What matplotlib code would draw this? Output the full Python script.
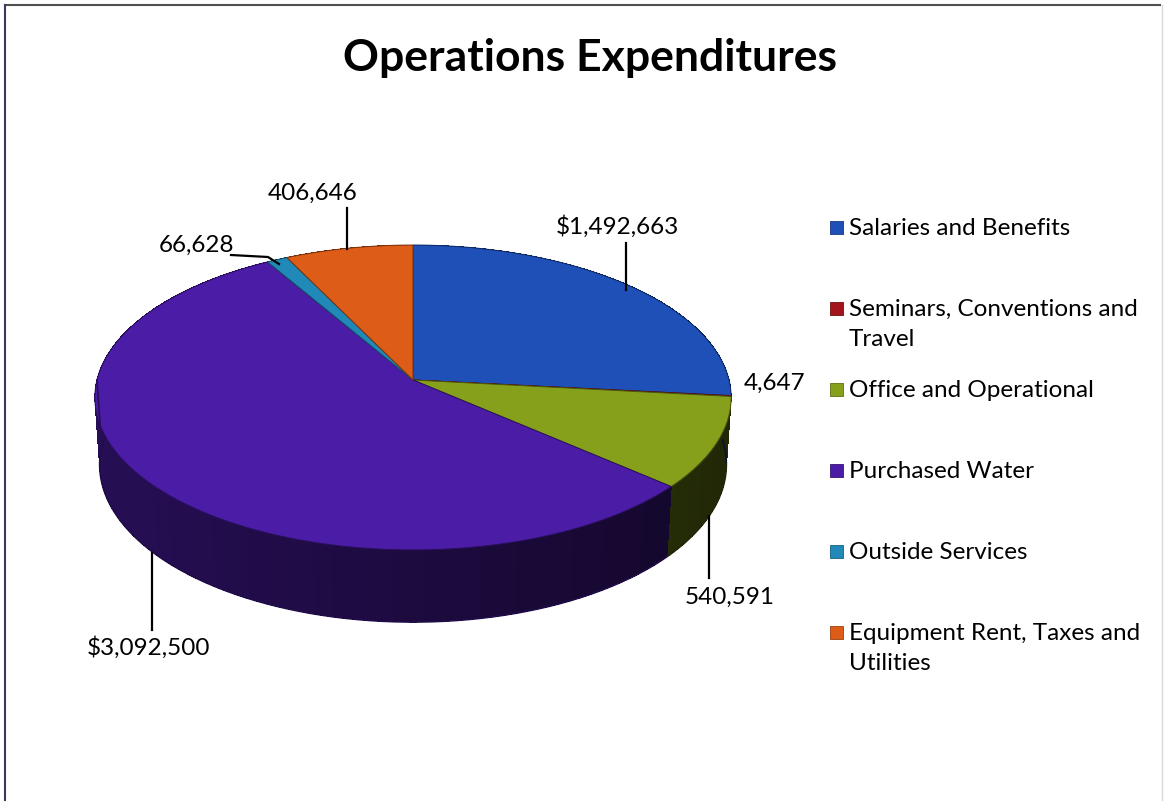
import numpy as np
import matplotlib
matplotlib.use("Agg")
import matplotlib.pyplot as plt
from matplotlib.patches import Polygon, Rectangle
from matplotlib.colors import to_rgb

plt.rcParams["font.family"] = ["Lato", "DejaVu Sans"]

categories = ["Salaries and Benefits", "Seminars, Conventions and\nTravel",
              "Office and Operational", "Purchased Water", "Outside Services",
              "Equipment Rent, Taxes and\nUtilities"]
amounts = [1492663, 4647, 540591, 3092500, 66628, 406646]
value_labels = ["$1,492,663", "4,647", "540,591", "$3,092,500", "66,628", "406,646"]
colors = ["#1f50b8", "#a3151c", "#87a01b", "#4b1ca6", "#2089b8", "#dd5c17"]

# label centre (px) and leader polyline (px) per slice
label_pos = [(617, 227), (775, 383), (730, 597), (148, 648), (196, 245), (313, 193)]
leaders = [[(626, 243), (626, 290)], None, [(709, 516), (709, 578)],
           [(152, 553), (152, 630)], [(231, 255), (268, 257), (279, 264)],
           [(347, 208), (347, 249)]]

# simple perspective camera for a disc of radius 1 lying in z=0
F, DIST, SIN_A, COS_A, DEPTH = 2424.0, 7.67, 0.476, 0.879, 0.243
CX, CY = 413, 380


def project(phi, z):
    X, Y = np.cos(phi), np.sin(phi)
    v = Y * SIN_A + z * COS_A
    w = DIST + Y * COS_A - z * SIN_A
    return CX + F * X / w, CY - F * v / w


def shade(color, phi):
    k = 0.38 - 0.14 * np.cos(phi)
    return tuple(c * k for c in to_rgb(color))


fig = plt.figure(figsize=(11.65, 8.02), dpi=100)
ax = fig.add_axes([0, 0, 1, 1])
ax.set_xlim(0, 1165)
ax.set_ylim(802, 0)
ax.axis("off")

total = float(sum(amounts))
cum = np.concatenate([[0.0], np.cumsum(amounts) / total])
bounds = np.pi / 2 - 2 * np.pi * cum   # clockwise from 12 o'clock

# outer wall, back-to-front; no antialiasing so the strips join without seams
strips = []
for i, col in enumerate(colors):
    a0, a1 = bounds[i], bounds[i + 1]
    n = max(2, int(abs(a1 - a0) / np.radians(1.0)) + 1)
    ph = np.linspace(a0, a1, n)
    for pa, pb in zip(ph[:-1], ph[1:]):
        xt0, yt0 = project(pa, 0)
        xt1, yt1 = project(pb, 0)
        xb1, yb1 = project(pb, -DEPTH)
        xb0, yb0 = project(pa, -DEPTH)
        pm = 0.5 * (pa + pb)
        strips.append((np.sin(pm), [(xt0, yt0), (xt1, yt1), (xb1, yb1), (xb0, yb0)],
                       shade(col, pm)))
strips.sort(key=lambda s: -s[0])
for _, pts, c in strips:
    ax.add_patch(Polygon(pts, closed=True, facecolor=c, edgecolor="none",
                         lw=0, antialiased=False))

# smooth the lower silhouette of the wall
for i, col in enumerate(colors):
    a0, a1 = bounds[i], bounds[i + 1]
    ph = np.linspace(a0, a1, max(3, int(abs(a1 - a0) / np.radians(0.5)) + 1))
    front = ph[np.sin(ph) < 0.05]
    if len(front) > 1:
        xb, yb = project(front, -DEPTH)
        ax.plot(xb, yb, color=shade(col, front.mean()), lw=1.2,
                solid_capstyle="butt")
xt, yt = project(np.pi, 0)
xb, yb = project(np.pi, -DEPTH)
ax.plot([xt, xb], [yt, yb], color=shade(colors[3], np.pi), lw=1.2)

# top faces
for i, col in enumerate(colors):
    a0, a1 = bounds[i], bounds[i + 1]
    n = max(3, int(abs(a1 - a0) / np.radians(0.5)) + 1)
    ph = np.linspace(a0, a1, n)
    xs, ys = project(ph, 0)
    pts = [(CX, CY)] + list(zip(xs, ys))
    ax.add_patch(Polygon(pts, closed=True, facecolor=col,
                         edgecolor=tuple(c * 0.55 for c in to_rgb(col)), lw=0.7))

# data labels
for (lx, ly), txt, lead in zip(label_pos, value_labels, leaders):
    ax.text(lx, ly, txt, fontsize=17.5, ha="center", va="center", color="black")
    if lead:
        px, py = zip(*lead)
        ax.plot(px, py, color="black", lw=1.6)

# legend
for i, (name, col) in enumerate(zip(categories, colors)):
    y = 227 + i * 81
    ax.add_patch(Rectangle((830, y - 6.5), 13, 13, facecolor=col,
                           edgecolor=tuple(c * 0.7 for c in to_rgb(col)), lw=0.6))
    ax.text(849, y - 9, name, fontsize=17.5, ha="left", va="top",
            linespacing=1.55, color="black")

ax.text(590, 58, "Operations Expenditures", fontsize=32, fontweight="bold",
        ha="center", va="center", color="black")

# chart frame
ax.plot([5, 1160], [5, 5], color="#505050", lw=1.5)
ax.plot([5, 5], [5, 800], color="#3a3a60", lw=1.5)
ax.plot([1162, 1162], [5, 800], color="#d8d8d8", lw=1.0)

fig.savefig("out.png", dpi=100)
